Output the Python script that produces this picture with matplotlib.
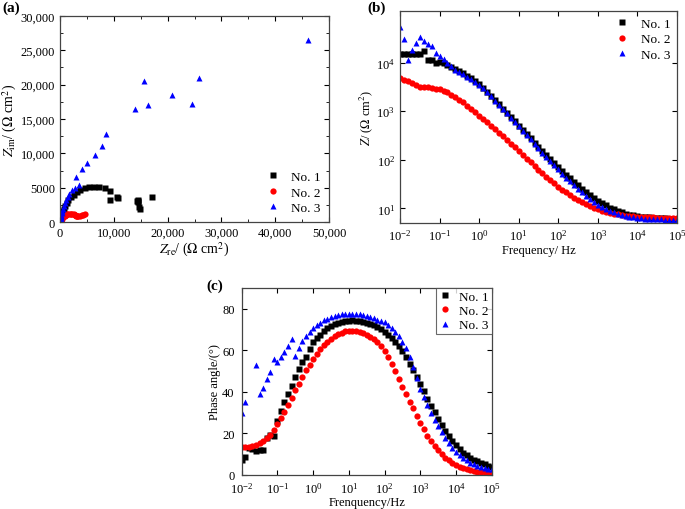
import numpy as np
import matplotlib
matplotlib.use('Agg')
import matplotlib.pyplot as plt
from matplotlib.ticker import MultipleLocator, FuncFormatter, NullLocator

plt.rcParams['font.family'] = 'Liberation Serif'
plt.rcParams['mathtext.fontset'] = 'stix'
plt.rcParams['font.size'] = 9

# measurement frequencies (Hz), 10 points per decade
freq = [0.01, 0.0126, 0.0158, 0.02, 0.0251, 0.0316, 0.0398, 0.0501, 0.0631, 0.0794,
        0.1, 0.126, 0.158, 0.2, 0.251, 0.316, 0.398, 0.501, 0.631, 0.794,
        1.0, 1.26, 1.58, 2.0, 2.51, 3.16, 3.98, 5.01, 6.31, 7.94,
        10.0, 12.6, 15.8, 20.0, 25.1, 31.6, 39.8, 50.1, 63.1, 79.4,
        100.0, 126, 158, 200, 251, 316, 398, 501, 631, 794,
        1000.0, 1260, 1580, 2000, 2510, 3160, 3980, 5010, 6310, 7940,
        1e4, 12600, 15800, 20000, 25100, 31600, 39800, 50100, 63100, 79400,
        1e5]

labels = ['No. 1', 'No. 2', 'No. 3']

# |Z| in ohm cm2
z1 = [15000, 14900, 14800, 14700, 14700, 14800, 17400, 11350, 11200, 9840,
      10300, 9620, 8910, 8180, 7460, 6750, 6040, 5360, 4710, 4100,
      3540, 2960, 2460, 2040, 1680, 1380, 1130, 927, 759, 619,
      506, 413, 337, 275, 225, 185, 151, 124, 103, 84.7,
      70.3, 58.6, 49.1, 41.3, 34.9, 29.6, 25.4, 21.8, 18.8, 16.4,
      14.4, 12.8, 11.5, 10.4, 9.55, 8.85, 8.28, 7.82, 7.45, 7.14,
      6.90, 6.75, 6.62, 6.50, 6.40, 6.32, 6.25, 6.20, 6.15, 6.10,
      6.07]
z2 = [4830, 4330, 4190, 3760, 3420, 3210, 3210, 3090, 3010, 2920,
      2820, 2610, 2420, 2160, 1960, 1710, 1510, 1290, 1100, 940,
      800, 687, 587, 500, 424, 358, 302, 254, 213, 179,
      150, 126, 105, 88.3, 74.3, 62.7, 53.0, 45.0, 38.3, 32.7,
      28.1, 24.3, 21.2, 18.6, 16.4, 14.7, 13.2, 12.1, 11.1, 10.3,
      9.57, 8.99, 8.51, 8.11, 7.78, 7.52, 7.29, 7.11, 6.97, 6.84,
      6.73, 6.65, 6.59, 6.55, 6.50, 6.47, 6.44, 6.43, 6.41, 6.40,
      6.40]
z3 = [53100, 30000, 11300, 18200, 25800, 33300, 27800, 23600, 21600, 15400,
      13600, 11760, 10000, 8680, 7160, 6350, 5700, 5100, 4500, 3950,
      3450, 2950, 2440, 2010, 1650, 1350, 1110, 904, 738, 603,
      490, 398, 324, 263, 214, 174, 141, 115, 93.8, 76.7,
      63.1, 52.0, 43.1, 35.8, 30.0, 25.3, 21.4, 18.3, 15.7, 13.7,
      12.0, 10.7, 9.66, 8.87, 8.26, 7.76, 7.36, 7.05, 6.79, 6.58,
      6.41, 6.28, 6.18, 6.10, 6.03, 5.97, 5.93, 5.89, 5.86, 5.83,
      5.82]

# phase angle (deg)
p1 = [7.2, 8.5, 12.8, 12.3, 11.5, 12.0, 12.2, 17.6, 19.2, 19.0,
      26.2, 30.7, 35.0, 39.0, 43.0, 47.0, 51.1, 54.6, 56.7, 60.7,
      63.9, 65.9, 67.6, 69.2, 70.7, 71.7, 72.5, 73.1, 73.6, 74.0,
      74.3, 74.4, 74.3, 74.1, 73.8, 73.3, 72.7, 72.0, 71.2, 70.2,
      69.0, 67.6, 66.0, 64.2, 62.0, 59.5, 56.6, 53.5, 50.3, 47.0,
      43.8, 40.3, 36.8, 33.4, 30.1, 27.0, 24.0, 21.2, 18.6, 16.2,
      14.2, 12.4, 10.8, 9.4, 8.3, 7.3, 6.5, 5.8, 5.1, 4.5,
      4.0]
p2 = [13.3, 13.4, 13.6, 14.0, 14.5, 15.2, 16.3, 17.6, 19.3, 21.5,
      24.5, 27.5, 30.5, 33.7, 37.1, 40.7, 43.9, 47.1, 50.3, 53.0,
      55.9, 58.3, 60.5, 62.4, 64.0, 65.5, 66.7, 67.7, 68.5, 69.1,
      69.4, 69.5, 69.3, 68.9, 68.3, 67.5, 66.5, 65.3, 64.0, 62.0,
      59.5, 57.0, 53.5, 50.0, 46.0, 42.5, 38.8, 35.3, 32.0, 28.5,
      25.0, 22.0, 19.0, 16.5, 14.0, 12.0, 10.0, 8.3, 7.0, 5.8,
      4.8, 4.0, 3.3, 2.7, 2.3, 1.9, 1.6, 1.4, 1.2, 1.0,
      0.9]
p3 = [29.9, 35.0, np.nan, np.nan, 53.0, 39.0, 41.8, 46.3, 49.8, 55.9,
      54.6, 56.7, 59.4, 62.3, 65.5, 57.2, 61.2, 64.7, 67.1, 69.0,
      70.5, 72.0, 73.3, 74.4, 75.3, 76.0, 76.6, 77.0, 77.3, 77.5,
      77.6, 77.6, 77.5, 77.3, 77.0, 76.6, 76.1, 75.5, 74.8, 74.2,
      73.5, 72.3, 70.8, 69.0, 66.8, 64.2, 61.0, 57.0, 52.0, 46.8,
      41.5, 37.5, 33.6, 30.0, 26.6, 23.5, 20.6, 18.0, 15.5, 13.2,
      11.2, 9.6, 8.2, 7.0, 6.0, 5.2, 4.5, 4.0, 3.5, 3.1,
      2.8]

styles = [dict(marker='s', color='black'),
          dict(marker='o', color='red'),
          dict(marker='^', color='blue')]
mods = [z1, z2, z3]
phases = [p1, p2, p3]

fig = plt.figure(figsize=(6.85, 5.10), dpi=100)
ax_a = fig.add_axes([0.0876, 0.5627, 0.3927, 0.404])
ax_b = fig.add_axes([0.5839, 0.5608, 0.4044, 0.4157])
ax_c = fig.add_axes([0.3528, 0.0667, 0.365, 0.3667])

ms = 4.5
leg_kw = dict(frameon=False, handlelength=1, handletextpad=0.9,
              labelspacing=0.25, fontsize=9.5)

# (a) Nyquist, built from modulus and phase
for z, p, st, lab in zip(mods, phases, styles, labels):
    z = np.array(z, dtype=float)
    ph = np.deg2rad(np.array(p, dtype=float))
    ax_a.plot(z * np.cos(ph), z * np.sin(ph), ls='none', ms=ms, mec='none',
              label=lab, **st)
ax_a.set_xlim(0, 50000)
ax_a.set_ylim(0, 30000)
ax_a.xaxis.set_major_locator(MultipleLocator(10000))
ax_a.yaxis.set_major_locator(MultipleLocator(5000))
ax_a.xaxis.set_minor_locator(MultipleLocator(5000))
ax_a.yaxis.set_minor_locator(MultipleLocator(2500))
fmt = FuncFormatter(lambda v, pos: '{:,.0f}'.format(v) if v >= 10000 else '{:.0f}'.format(v))
ax_a.xaxis.set_major_formatter(fmt)
ax_a.yaxis.set_major_formatter(fmt)
ax_a.set_xlabel(r'$Z_{\rm re}$/ ($\Omega$ cm$^2$)', labelpad=1, fontsize=10)
ax_a.set_ylabel(r'$Z_{\rm im}$/ ($\Omega$ cm$^2$)', labelpad=1, fontsize=10)
ax_a.legend(loc='lower right', borderaxespad=0.2, **leg_kw)

# (b) Bode modulus
for z, st, lab in zip(mods, styles, labels):
    ax_b.plot(freq, z, ls='none', ms=ms, mec='none', label=lab, **st)
ax_b.set_xscale('log')
ax_b.set_yscale('log')
ax_b.set_xlim(1e-2, 1e5)
ax_b.set_ylim(5, 1.15e5)
ax_b.set_yticks([1e1, 1e2, 1e3, 1e4])
ax_b.set_xticks([10.0 ** k for k in range(-2, 6)])
ax_b.xaxis.set_minor_locator(NullLocator())
ax_b.yaxis.set_minor_locator(NullLocator())
ax_b.set_xlabel('Frequency/ Hz', labelpad=1)
ax_b.set_ylabel(r'$Z$/ ($\Omega$ cm$^2$)', labelpad=1)
ax_b.legend(loc='upper right', borderaxespad=0.1, **leg_kw)

# (c) Bode phase
for p, st, lab in zip(phases, styles, labels):
    ax_c.plot(freq, p, ls='none', ms=ms, mec='none', label=lab, **st)
ax_c.set_xscale('log')
ax_c.set_xlim(1e-2, 1e5)
ax_c.set_ylim(0, 90)
ax_c.set_xticks([10.0 ** k for k in range(-2, 6)])
ax_c.xaxis.set_minor_locator(NullLocator())
ax_c.yaxis.set_major_locator(MultipleLocator(20))
ax_c.set_xlabel('Frenquency/Hz', labelpad=0)
ax_c.set_ylabel('Phase angle/(°)', labelpad=1)
leg = ax_c.legend(loc='upper right', frameon=True, fancybox=False, handlelength=1,
                  handletextpad=0.6, borderaxespad=0, labelspacing=0.15, fontsize=9.5,
                  borderpad=0.2)
leg.get_frame().set_edgecolor('#444444')
leg.get_frame().set_linewidth(0.8)

for ax in (ax_a, ax_b, ax_c):
    ax.tick_params(which='both', direction='in', top=True, right=True, labelsize=9)
    ax.tick_params(which='major', length=3.5)
    ax.tick_params(which='minor', length=2)
    for s in ax.spines.values():
        s.set_color('#444444')
        s.set_linewidth(0.9)
ax_c.tick_params(axis='y', pad=5)
ax_c.tick_params(axis='x', pad=4.5)

fig.text(0.004, 0.997, '(a)', fontsize=11, fontweight='bold', ha='left', va='top')
fig.text(0.536, 0.997, '(b)', fontsize=11, fontweight='bold', ha='left', va='top')
fig.text(0.302, 0.451, '(c)', fontsize=11, fontweight='bold', ha='left', va='top')

fig.savefig('out.png', dpi=100)
